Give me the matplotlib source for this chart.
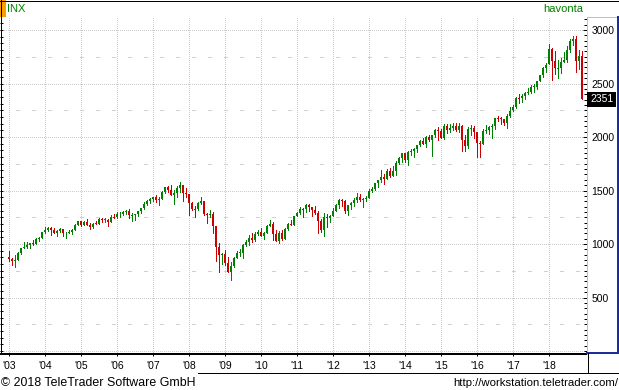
import matplotlib
matplotlib.use("Agg")
import matplotlib.pyplot as plt
from matplotlib.ticker import MultipleLocator, FixedLocator, NullFormatter
from matplotlib.transforms import blended_transform_factory

# ---------------- data (monthly S&P 500 / INX candles, Jan 2003 .. Dec 2018) ----------------
year_labels = ["'03", "'04", "'05", "'06", "'07", "'08", "'09", "'10",
               "'11", "'12", "'13", "'14", "'15", "'16", "'17", "'18"]

opens = [
    879.8, 855.7, 841.2, 848.2, 916.9, 963.6, 974.5, 990.3, 1008.0, 996.0, 1050.7, 1058.2,
    1111.9, 1131.1, 1144.9, 1126.2, 1107.3, 1120.7, 1140.8, 1101.7, 1104.2, 1114.6, 1130.2, 1173.8,
    1211.9, 1181.3, 1203.6, 1180.6, 1156.9, 1191.5, 1191.3, 1234.2, 1220.3, 1228.8, 1207.0, 1249.5,
    1248.3, 1280.1, 1280.7, 1294.9, 1310.6, 1270.1, 1270.2, 1276.7, 1303.8, 1335.9, 1377.9, 1400.6,
    1418.3, 1438.2, 1406.8, 1420.9, 1482.4, 1530.6, 1503.4, 1455.3, 1474.0, 1526.8, 1549.4, 1481.1,
    1468.4, 1378.6, 1330.6, 1322.7, 1385.6, 1400.4, 1280.0, 1267.4, 1282.8, 1166.4, 968.8, 896.2,
    903.3, 825.9, 735.1, 797.9, 872.8, 919.1, 919.3, 987.5, 1020.6, 1057.1, 1036.2, 1095.6,
    1115.1, 1073.9, 1104.5, 1169.4, 1186.7, 1089.4, 1030.7, 1101.6, 1049.3, 1141.2, 1183.3, 1180.6,
    1257.6, 1286.1, 1327.2, 1325.8, 1363.6, 1345.2, 1320.6, 1292.3, 1218.9, 1131.4, 1253.3, 1247.0,
    1258.9, 1312.4, 1365.7, 1408.5, 1397.9, 1310.3, 1362.2, 1379.3, 1406.6, 1440.7, 1412.2, 1416.2,
    1426.2, 1498.1, 1514.7, 1569.2, 1597.6, 1630.7, 1606.3, 1685.7, 1633.0, 1681.6, 1756.5, 1805.8,
    1848.4, 1782.6, 1859.5, 1872.3, 1883.9, 1923.6, 1960.2, 1930.7, 2003.4, 1972.3, 2018.1, 2067.6,
    2058.9, 1995.0, 2104.5, 2067.9, 2085.5, 2107.4, 2063.1, 2103.8, 1972.2, 1920.0, 2079.4, 2080.4,
    2043.9, 1940.2, 1932.2, 2059.7, 2065.3, 2096.9, 2098.9, 2173.6, 2170.9, 2168.3, 2126.2, 2199.0,
    2251.6, 2278.9, 2363.6, 2362.7, 2384.2, 2411.8, 2423.4, 2470.3, 2471.7, 2521.2, 2575.3, 2647.6,
    2683.7, 2823.8, 2713.8, 2640.9, 2648.1, 2705.3, 2718.4, 2816.3, 2901.5, 2914.0, 2711.7, 2760.2,
]
highs = [
    935.0, 864.6, 895.9, 924.2, 965.4, 1015.3, 1015.4, 1011.0, 1040.3, 1053.8, 1063.7, 1112.6,
    1155.4, 1158.9, 1163.2, 1150.6, 1127.7, 1146.3, 1140.8, 1109.7, 1131.5, 1142.1, 1188.5, 1217.3,
    1217.8, 1212.4, 1229.1, 1191.9, 1199.6, 1219.6, 1245.2, 1245.9, 1243.1, 1233.3, 1270.6, 1275.8,
    1294.9, 1297.6, 1310.9, 1318.2, 1326.7, 1290.7, 1283.4, 1306.7, 1340.3, 1389.5, 1407.9, 1431.8,
    1441.6, 1461.6, 1438.9, 1498.0, 1535.6, 1540.6, 1555.9, 1503.9, 1538.7, 1576.1, 1552.8, 1523.6,
    1471.8, 1396.0, 1359.7, 1397.0, 1440.2, 1404.1, 1292.2, 1313.2, 1303.0, 1167.0, 1007.5, 919.0,
    943.9, 877.9, 833.0, 875.6, 930.2, 956.2, 996.7, 1039.5, 1080.2, 1101.4, 1113.7, 1130.4,
    1150.5, 1112.4, 1180.2, 1219.8, 1206.0, 1131.2, 1121.0, 1129.2, 1148.7, 1196.1, 1227.1, 1262.6,
    1302.7, 1344.1, 1332.3, 1370.6, 1370.6, 1345.2, 1356.5, 1307.4, 1229.3, 1292.7, 1277.6, 1269.4,
    1333.5, 1378.0, 1419.2, 1422.4, 1415.3, 1363.5, 1391.7, 1426.7, 1474.5, 1471.0, 1434.3, 1448.0,
    1509.9, 1530.9, 1570.3, 1597.6, 1687.2, 1654.2, 1698.8, 1709.7, 1729.9, 1775.2, 1813.6, 1849.4,
    1850.8, 1867.9, 1884.0, 1897.3, 1924.0, 1968.2, 1991.4, 2005.0, 2019.3, 2018.2, 2075.8, 2093.6,
    2072.4, 2119.6, 2117.5, 2125.9, 2134.7, 2130.0, 2132.8, 2112.7, 2020.9, 2094.3, 2116.5, 2104.3,
    2043.9, 1963.0, 2072.2, 2111.1, 2103.5, 2120.6, 2177.1, 2193.8, 2187.9, 2169.6, 2214.1, 2277.5,
    2301.0, 2371.5, 2401.0, 2398.2, 2418.7, 2453.8, 2484.0, 2490.9, 2519.4, 2583.0, 2657.7, 2695.0,
    2872.9, 2836.0, 2801.9, 2717.5, 2742.2, 2791.5, 2848.0, 2916.5, 2940.9, 2939.9, 2815.2, 2800.2,
]
lows = [
    840.3, 806.3, 788.9, 847.9, 902.8, 963.6, 962.1, 960.8, 990.4, 995.9, 1031.2, 1058.2,
    1105.1, 1124.4, 1087.2, 1107.2, 1076.3, 1113.3, 1078.8, 1060.7, 1101.3, 1090.2, 1127.6, 1173.8,
    1163.8, 1180.1, 1176.9, 1136.2, 1146.2, 1188.3, 1183.6, 1201.1, 1205.4, 1168.2, 1201.1, 1246.6,
    1245.7, 1253.6, 1268.4, 1280.7, 1245.3, 1219.3, 1224.5, 1261.3, 1290.9, 1327.1, 1360.9, 1385.9,
    1403.9, 1389.1, 1364.0, 1416.4, 1476.7, 1484.2, 1454.3, 1370.6, 1439.3, 1489.6, 1406.1, 1435.7,
    1270.1, 1316.8, 1257.0, 1322.0, 1373.1, 1272.0, 1200.4, 1248.0, 1106.4, 839.8, 741.0, 815.7,
    804.2, 734.5, 666.8, 783.4, 866.1, 888.9, 869.3, 978.5, 992.0, 1020.2, 1029.4, 1085.9,
    1071.6, 1044.5, 1101.0, 1170.7, 1040.8, 1028.3, 1010.9, 1039.7, 1049.3, 1131.9, 1173.0, 1180.6,
    1257.6, 1282.9, 1249.1, 1294.7, 1311.8, 1258.1, 1282.9, 1101.5, 1114.2, 1074.8, 1158.7, 1202.4,
    1258.9, 1312.4, 1340.0, 1357.4, 1292.0, 1266.7, 1325.4, 1354.7, 1396.6, 1403.3, 1343.4, 1398.1,
    1426.2, 1485.0, 1501.5, 1536.0, 1581.3, 1560.3, 1604.6, 1627.5, 1633.4, 1646.5, 1746.2, 1768.0,
    1770.5, 1737.9, 1834.4, 1814.4, 1859.8, 1916.0, 1930.7, 1904.8, 1964.0, 1820.7, 2001.0, 1972.6,
    1988.1, 1980.9, 2039.7, 2048.4, 2067.9, 2056.3, 2044.0, 1867.0, 1871.9, 1893.7, 2019.4, 1993.3,
    1812.3, 1810.1, 1931.8, 2033.8, 2025.9, 1991.7, 2074.0, 2147.6, 2119.1, 2114.7, 2083.8, 2187.4,
    2245.1, 2271.7, 2322.3, 2329.0, 2352.7, 2405.7, 2407.7, 2417.4, 2446.6, 2520.4, 2557.4, 2605.5,
    2682.4, 2532.7, 2585.9, 2553.8, 2594.6, 2698.7, 2699.0, 2796.3, 2864.1, 2603.5, 2631.1, 2351.1,
]
closes = [
    855.7, 841.2, 848.2, 916.9, 963.6, 974.5, 990.3, 1008.0, 996.0, 1050.7, 1058.2, 1111.9,
    1131.1, 1144.9, 1126.2, 1107.3, 1120.7, 1140.8, 1101.7, 1104.2, 1114.6, 1130.2, 1173.8, 1211.9,
    1181.3, 1203.6, 1180.6, 1156.9, 1191.5, 1191.3, 1234.2, 1220.3, 1228.8, 1207.0, 1249.5, 1248.3,
    1280.1, 1280.7, 1294.9, 1310.6, 1270.1, 1270.2, 1276.7, 1303.8, 1335.9, 1377.9, 1400.6, 1418.3,
    1438.2, 1406.8, 1420.9, 1482.4, 1530.6, 1503.4, 1455.3, 1474.0, 1526.8, 1549.4, 1481.1, 1468.4,
    1378.6, 1330.6, 1322.7, 1385.6, 1400.4, 1280.0, 1267.4, 1282.8, 1166.4, 968.8, 896.2, 903.3,
    825.9, 735.1, 797.9, 872.8, 919.1, 919.3, 987.5, 1020.6, 1057.1, 1036.2, 1095.6, 1115.1,
    1073.9, 1104.5, 1169.4, 1186.7, 1089.4, 1030.7, 1101.6, 1049.3, 1141.2, 1183.3, 1180.6, 1257.6,
    1286.1, 1327.2, 1325.8, 1363.6, 1345.2, 1320.6, 1292.3, 1218.9, 1131.4, 1253.3, 1247.0, 1257.6,
    1312.4, 1365.7, 1408.5, 1397.9, 1310.3, 1362.2, 1379.3, 1406.6, 1440.7, 1412.2, 1416.2, 1426.2,
    1498.1, 1514.7, 1569.2, 1597.6, 1630.7, 1606.3, 1685.7, 1633.0, 1681.6, 1756.5, 1805.8, 1848.4,
    1782.6, 1859.5, 1872.3, 1883.9, 1923.6, 1960.2, 1930.7, 2003.4, 1972.3, 2018.1, 2067.6, 2058.9,
    1995.0, 2104.5, 2067.9, 2085.5, 2107.4, 2063.1, 2103.8, 1972.2, 1920.0, 2079.4, 2080.4, 2043.9,
    1940.2, 1932.2, 2059.7, 2065.3, 2096.9, 2098.9, 2173.6, 2170.9, 2168.3, 2126.2, 2199.0, 2238.8,
    2278.9, 2363.6, 2362.7, 2384.2, 2411.8, 2423.4, 2470.3, 2471.7, 2519.4, 2575.3, 2647.6, 2673.6,
    2823.8, 2713.8, 2640.9, 2648.1, 2705.3, 2718.4, 2816.3, 2901.5, 2914.0, 2711.7, 2760.2, 2351.1,
]
last_value = 2351
price_labels = [500, 1000, 1500, 2000, 2500, 3000]

# ---------------- styling ----------------
W, H = 619, 390
PX = 0.72  # 1 pixel in points at dpi 100
UP = '#008000'
DOWN = '#cc0000'
GRID = '#cccccc'
FONT = 'Liberation Sans'

fig = plt.figure(figsize=(W / 100, H / 100), dpi=100)
fig.patch.set_facecolor('white')

top_px, bot_px, right_px = 17, 354, 587
ax = fig.add_axes([0, 1 - bot_px / H, right_px / W, (bot_px - top_px) / H])
ax.set_facecolor('white')

# y scale: 0 at pixel 351, 0.107 px per unit
y0_px, ppu = 351.0, 0.107
ax.set_ylim((y0_px - bot_px) / ppu, (y0_px - top_px) / ppu)
ax.set_xlim(-3, (right_px - 9) / 3.0)

# grid
n_years = len(year_labels)
for k in range(n_years):
    ax.axvline(12 * k, color=GRID, lw=PX, ls=(0, (1, 2)), zorder=0, antialiased=False)
for v in range(0, 3001, 500):
    ax.axhline(v, color=GRID, lw=PX, ls=(0, (1, 2)), zorder=0, antialiased=False)
for v in range(250, 3000, 500):
    ax.axhline(v, color='#d0d0d0', lw=PX, ls=(0, (3, 12)), zorder=0, antialiased=False)

# candles
for i, (o, h, l, c) in enumerate(zip(opens, highs, lows, closes)):
    col = UP if c >= o else DOWN
    ax.vlines(i, l, h, color=col, lw=PX, zorder=2, antialiased=False)
    body = abs(c - o)
    if body < 9:
        body = 9
        b0 = (o + c) / 2 - 4.5
    else:
        b0 = min(o, c)
    ax.bar(i, body, bottom=b0, width=0.97, color=col, linewidth=0, zorder=3,
           antialiased=False)

# axes spines / ticks
for s in ['top', 'right', 'left']:
    ax.spines[s].set_visible(False)
ax.spines['bottom'].set_color('black')
ax.spines['bottom'].set_linewidth(2 * PX)
ax.set_xticks([12 * k for k in range(n_years)])
ax.set_xticklabels(year_labels, fontsize=7.5, family=FONT)
ax.tick_params(axis='x', direction='out', length=2 * PX, width=PX, pad=3.5, colors='black')
ax.yaxis.set_major_locator(MultipleLocator(62.5))
ax.yaxis.set_major_formatter(NullFormatter())
ax.tick_params(axis='y', which='major', direction='in', length=3 * PX, width=PX,
               left=True, right=False, labelleft=False)

ax2 = ax.twinx()
ax2.set_ylim(ax.get_ylim())
for s in ['top', 'left', 'bottom']:
    ax2.spines[s].set_visible(False)
ax2.spines['right'].set_color('#e8c050')
ax2.spines['right'].set_linewidth(PX)
ax2.yaxis.set_major_locator(FixedLocator(price_labels))
ax2.set_yticklabels([str(v) for v in price_labels], fontsize=7.5, family=FONT)
ax2.yaxis.set_minor_locator(MultipleLocator(50))
ax2.tick_params(axis='y', which='major', direction='in', length=4 * PX, width=PX, pad=3)
ax2.tick_params(axis='y', which='minor', direction='in', length=3 * PX, width=PX)

# last value box
trans = blended_transform_factory(ax2.transAxes, ax2.transData)
ax2.annotate(str(last_value), xy=(1.0, last_value), xycoords=trans,
             xytext=(2.2, 0), textcoords='offset points', ha='left', va='center',
             fontsize=7.5, family=FONT, color='white', annotation_clip=False,
             bbox=dict(boxstyle='square,pad=0.25', fc='black', ec='none'))

# overlay in pixel coordinates for frame decorations and captions
ov = fig.add_axes([0, 0, 1, 1], zorder=10)
ov.set_xlim(0, W)
ov.set_ylim(H, 0)
ov.axis('off')
ov.patch.set_alpha(0)

ov.plot([0, W], [0.5, 0.5], color='black', lw=PX)
ov.plot([0.5, 0.5], [0, bot_px], color='black', lw=PX)
ov.add_patch(plt.Rectangle((0, 0), 6, 17, color='#f5a000', lw=0))
ov.plot([right_px, W - 2], [top_px, top_px], color='#e8c050', lw=PX)
ov.plot([617.5, 617.5], [top_px, 353], color='#1a2f9a', lw=2 * PX)
ov.plot([right_px, W], [352.5, 352.5], color='#1a2f9a', lw=2 * PX)
ov.plot([right_px + 0.5, right_px + 0.5], [353, 373], color='black', lw=PX)
ov.plot([618.5, 618.5], [353, 373], color='black', lw=PX)
ov.plot([198, W], [373, 373], color='black', lw=PX)

ov.text(7, 9, 'INX', color=UP, fontsize=8, family=FONT, ha='left', va='center')
ov.text(583, 9, 'havonta', color=UP, fontsize=8, family=FONT, ha='right', va='center')
ov.text(1, 382.5, '\u00a9 2018 TeleTrader Software GmbH', color='black', fontsize=8.9,
        family=FONT, ha='left', va='center')
ov.text(618, 382.5, 'http://workstation.teletrader.com/', color='black', fontsize=8.2,
        family=FONT, ha='right', va='center')

fig.savefig('out.png', dpi=100, facecolor='white')
